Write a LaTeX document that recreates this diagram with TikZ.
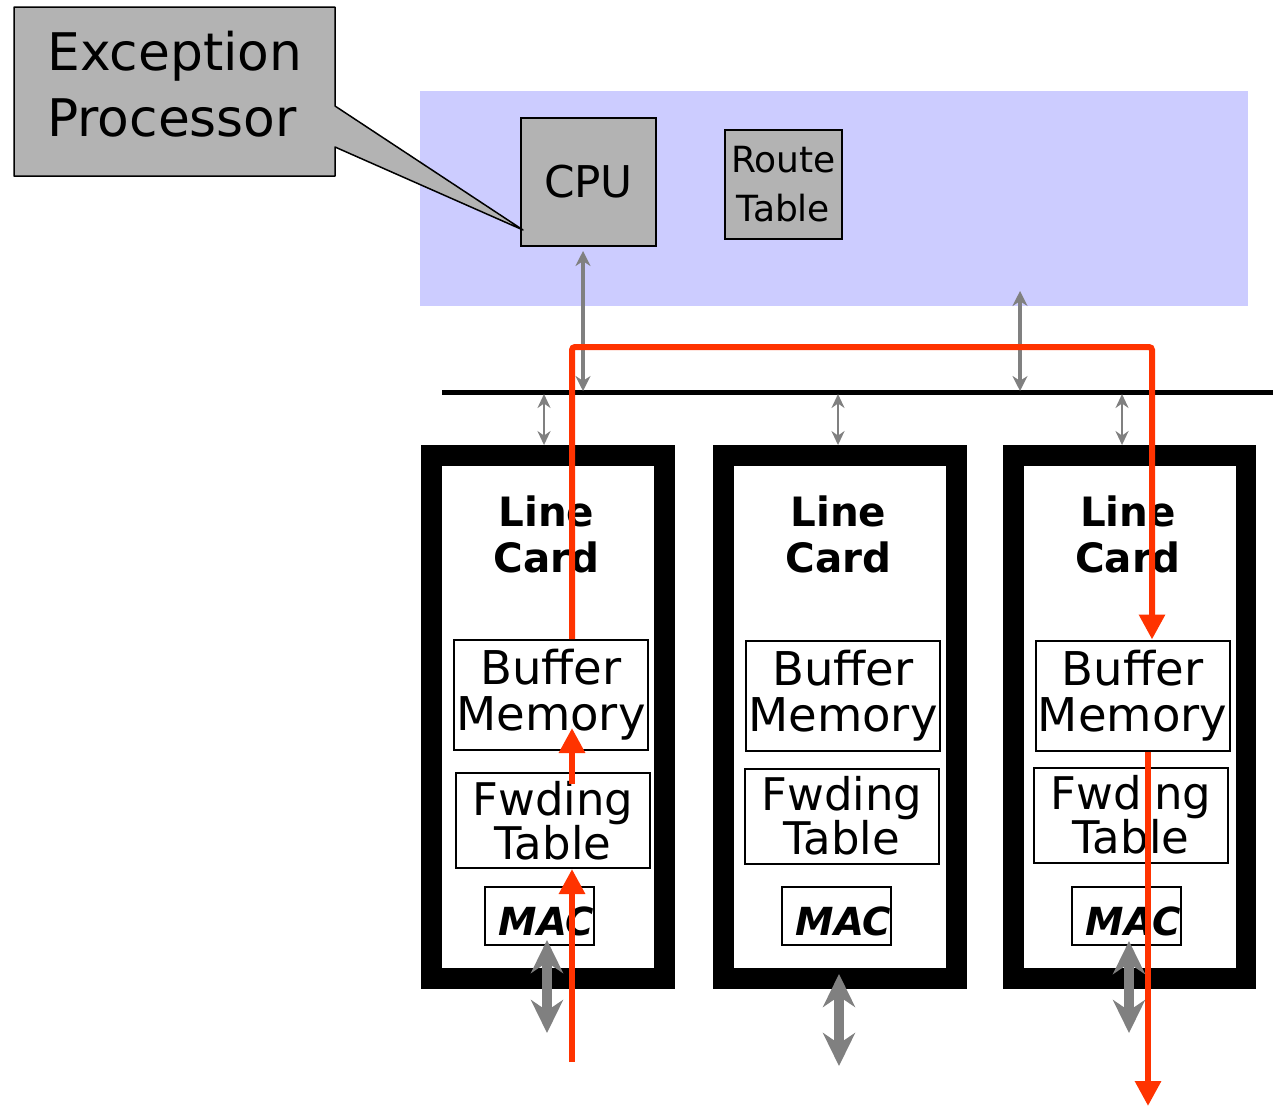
\documentclass[tikz,border=0pt]{standalone}
\usepackage{fontspec}
\setmainfont{DejaVu Sans}
\usetikzlibrary{arrows.meta,calc}
\definecolor{panelblue}{RGB}{204,204,255}
\definecolor{boxgray}{RGB}{179,179,179}
\definecolor{flowred}{RGB}{255,51,0}
\definecolor{linkgray}{RGB}{128,128,128}
\newcommand\fsz[2]{\fontsize{#1pt}{#2pt}\selectfont}
\begin{document}
\begin{tikzpicture}[x=0.02cm,y=-0.02cm,
  graybox/.style={draw=black, line width=0.04cm, fill=boxgray, inner sep=0pt},
  unit/.style={draw=black, line width=0.04cm, fill=white, inner sep=0pt, align=center},
  bufbox/.style={unit, minimum width=3.88cm, minimum height=2.2cm, font=\fsz{26.5}{26.2}},
  fwdbox/.style={unit, minimum width=3.88cm, minimum height=1.9cm, font=\fsz{25.6}{25}},
  macbox/.style={unit, minimum width=2.18cm, minimum height=1.16cm},
  mactext/.style={inner sep=0pt, font=\bfseries\itshape\fsz{22}{25}},
  card/.style={draw=black, fill=white, line width=0.42cm, minimum width=4.66cm,
               minimum height=10.46cm, inner sep=0pt},
  cardtext/.style={align=center, inner sep=0pt, font=\bfseries\fsz{23}{26.2}},
  buslink/.style={draw=linkgray, line width=0.05cm, >={Stealth[length=0.28cm,width=0.26cm]}, <->},
  cpulink/.style={draw=linkgray, line width=0.08cm, >={Stealth[length=0.3cm,width=0.3cm]}, <->},
  portlink/.style={draw=linkgray, line width=0.2cm, >={Stealth[length=0.66cm,width=0.64cm]}, <->},
  flow/.style={draw=flowred, line width=0.12cm, -{Triangle[length=0.5cm,width=0.5cm]}}]

\useasboundingbox (0,0) rectangle (1273,1107);

% route processor panel
\node (panel) [fill=panelblue, minimum width=16.56cm, minimum height=4.3cm,
               inner sep=0pt, outer sep=0pt] at (834,198.5) {};
\node (cpu) [graybox, minimum width=2.7cm, minimum height=2.56cm,
             font=\fsz{24.9}{30}] at (588.5,182) {CPU};
\node (rt) [graybox, minimum width=2.34cm, minimum height=2.18cm, align=center,
            font=\fsz{20.5}{27.9}] at (783.5,184) {Route\\Table};

% callout naming the CPU
\coordinate (tip) at ($(cpu.south west)+(3,-17)$);
\filldraw[fill=boxgray, draw=black, line width=0.03cm, line join=round]
  (14,7) -- (335,7) -- (335,106) -- (tip) -- (335,147) -- (335,176) -- (14,176) -- cycle;
\node (exc) [anchor=west, align=left, inner sep=0pt, font=\fsz{29.5}{37.6}]
  at (47,84.3) {Exception\\Processor};

% backplane bus
\coordinate (busL) at (442,392);
\coordinate (busR) at (1273,392);
\draw[line width=0.1cm] (busL) -- (busR);

% line cards
\foreach \i/\x in {1/548,2/840,3/1129.5}{
  \node (card\i) [card] at (\x,717) {};
  \node (lc\i) [cardtext] at (\x-1.5,534.5) {Line\\Card};
}
\node (bm1) [bufbox] at (551,695) {Buffer\\Memory};
\node (bm2) [bufbox] at (843,695.5) {Buffer\\Memory};
\node (bm3) [bufbox] at (1132.5,695.5) {Buffer\\Memory};
\node (ft1) [fwdbox] at (553,820.5) {Fwding\\Table};
\node (ft2) [fwdbox] at (841.8,816) {Fwding\\Table};
\node (ft3) [fwdbox] at (1131,815) {Fwding\\Table};
\foreach \i/\x in {1/539.5,2/836.5,3/1126.5}{
  \node (mac\i) [macbox] at (\x,916) {};
  \node (mact\i) [mactext] at ($(mac\i)+(7,5)$) {MAC};
}

% links between bus, processor and cards
\coordinate (t0) at (583,391);
\draw[cpulink] ($(t0 |- cpu.south)+(0,4)$) -- (t0);
\coordinate (t4) at (1020,391);
\draw[cpulink] ($(t4 |- panel.south)+(0,-15)$) -- (t4);
\coordinate (b1) at (544,394);
\coordinate (b2) at (838,394);
\coordinate (b3) at (1122,394);
\draw[buslink] (b1) -- (b1 |- card1.north);
\draw[buslink] (b2) -- (b2 |- card2.north);
\draw[buslink] (b3) -- (b3 |- card3.north);

% external ports
\coordinate (io1) at (547,1033);
\coordinate (io2) at (839,1066);
\coordinate (io3) at (1129,1033);
\draw[portlink] (io1) -- ($(io1 |- mac1.south)+(0,-6)$);
\draw[portlink] (io2) -- ($(io2 |- card2.south)+(0,-15)$);
\draw[portlink] (io3) -- ($(io3 |- mac3.south)+(0,-5)$);

% packet path through the exception processor route
\coordinate (in1) at (572,1062);
\coordinate (up1) at (572,347);
\coordinate (up3) at (1152,347);
\coordinate (out3) at (1148,1106);
\draw[flow] (in1) -- (in1 |- ft1.south);
\draw[flow] ($(in1 |- ft1.north)+(0,12)$) -- ($(in1 |- bm1.south)+(0,-23)$);
\draw[flow, rounded corners=0.06cm] (up1 |- bm1.north) -- (up1) -- (up3) -- (up3 |- bm3.north);
\draw[flow] (out3 |- bm3.south) -- (out3);

\end{tikzpicture}
\end{document}
